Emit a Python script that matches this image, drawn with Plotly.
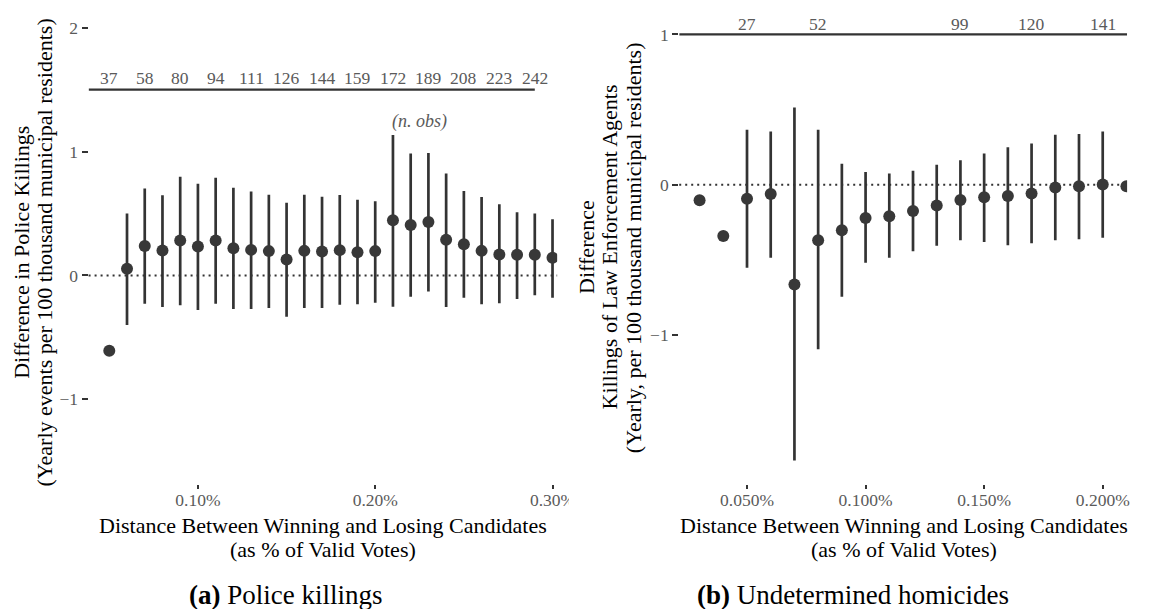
import plotly.graph_objects as go

W, H = 1151, 609
FONT = "Liberation Serif"
INK = "#333333"
GREY = "#5a5a5a"

# ---- Panel (a): police killings -------------------------------------------
margin_a = [0.05, 0.06, 0.07, 0.08, 0.09, 0.10, 0.11, 0.12, 0.13, 0.14, 0.15, 0.16, 0.17,
            0.18, 0.19, 0.20, 0.21, 0.22, 0.23, 0.24, 0.25, 0.26, 0.27, 0.28, 0.29, 0.30]
est_a = [-0.609, 0.053, 0.238, 0.201, 0.281, 0.233, 0.281, 0.220, 0.206, 0.196, 0.128, 0.198,
         0.193, 0.204, 0.187, 0.196, 0.445, 0.407, 0.431, 0.287, 0.252, 0.198, 0.169, 0.166,
         0.166, 0.142]
lo_a = [None, -0.400, -0.228, -0.255, -0.241, -0.279, -0.228, -0.271, -0.271, -0.263, -0.333,
        -0.263, -0.263, -0.236, -0.233, -0.220, -0.252, -0.172, -0.129, -0.255, -0.180, -0.233,
        -0.225, -0.191, -0.161, -0.180]
hi_a = [None, 0.499, 0.702, 0.646, 0.796, 0.740, 0.788, 0.708, 0.678, 0.651, 0.587, 0.651,
        0.635, 0.649, 0.611, 0.598, 1.134, 0.984, 0.989, 0.823, 0.681, 0.632, 0.574, 0.509,
        0.499, 0.453]
nobs_x_a = [0.05, 0.07, 0.09, 0.11, 0.13, 0.15, 0.17, 0.19, 0.21, 0.23, 0.25, 0.27, 0.29]
nobs_a = [37, 58, 80, 94, 111, 126, 144, 159, 172, 189, 208, 223, 242]
xticks_a = [0.10, 0.20, 0.30]
xticklabels_a = ["0.10%", "0.20%", "0.30%"]
yticks_a = [-1, 0, 1, 2]
yticklabels_a = ["\u22121", "0", "1", "2"]

# ---- Panel (b): undetermined homicides -------------------------------------
margin_b = [0.03, 0.04, 0.05, 0.06, 0.07, 0.08, 0.09, 0.10, 0.11, 0.12, 0.13, 0.14, 0.15,
            0.16, 0.17, 0.18, 0.19, 0.20, 0.21]
est_b = [-0.104, -0.341, -0.093, -0.062, -0.664, -0.370, -0.303, -0.221, -0.210, -0.175,
         -0.139, -0.102, -0.084, -0.075, -0.058, -0.018, -0.011, 0.002, -0.011]
lo_b = [None, None, -0.553, -0.487, -1.836, -1.095, -0.746, -0.520, -0.487, -0.443, -0.407,
        -0.370, -0.381, -0.403, -0.390, -0.370, -0.363, -0.354, None]
hi_b = [None, None, 0.365, 0.354, 0.513, 0.365, 0.139, 0.084, 0.075, 0.093, 0.133, 0.163,
        0.208, 0.250, 0.274, 0.332, 0.338, 0.354, None]
nobs_x_b = [0.05, 0.08, 0.14, 0.17, 0.20]
nobs_b = [27, 52, 99, 120, 141]
xticks_b = [0.05, 0.10, 0.15, 0.20]
xticklabels_b = ["0.050%", "0.100%", "0.150%", "0.200%"]
yticks_b = [-1, 0, 1]
yticklabels_b = ["\u22121", "0", "1"]

# axis ranges (in % of valid votes / effect units)
xrange_a = [0.03833, 0.30261]
yrange_a = [-1.687, 2.062]
xrange_b = [0.02141, 0.21028]
yrange_b = [-1.995, 1.163]
nobs_line_a = 1.5
nobs_line_b = 1.0
nobs_text_y_a = 1.59
nobs_text_y_b = 1.072


def px(x):
    return x / W


def py(y):
    return 1 - y / H


def segments(xs, lo, hi):
    sx, sy = [], []
    for x, a, b in zip(xs, lo, hi):
        if a is None or b is None:
            continue
        sx += [x, x, None]
        sy += [a, b, None]
    return sx, sy


fig = go.Figure()

for xs, est, lo, hi, xa, ya in [
    (margin_a, est_a, lo_a, hi_a, "x", "y"),
    (margin_b, est_b, lo_b, hi_b, "x2", "y2"),
]:
    sx, sy = segments(xs, lo, hi)
    fig.add_trace(go.Scatter(x=sx, y=sy, mode="lines", xaxis=xa, yaxis=ya,
                             line=dict(color=INK, width=2.7), hoverinfo="skip",
                             showlegend=False))
    fig.add_trace(go.Scatter(x=xs, y=est, mode="markers", xaxis=xa, yaxis=ya,
                             marker=dict(color="#383838", size=12, line=dict(width=0)),
                             showlegend=False))

tickfont = dict(family=FONT, size=17.5, color=GREY)
common_x = dict(showgrid=False, zeroline=False, showline=False, ticks="outside",
                ticklen=4, tickwidth=1.5, tickcolor=INK, tickfont=tickfont, fixedrange=True,
                ticklabelstandoff=-4)
common_y = dict(showgrid=False, zeroline=False, showline=False, ticks="outside",
                ticklen=6, tickwidth=2, tickcolor=INK, tickfont=tickfont, fixedrange=True)

fig.update_layout(
    width=W, height=H,
    margin=dict(l=0, r=0, t=0, b=0),
    paper_bgcolor="white", plot_bgcolor="rgba(0,0,0,0)",
    showlegend=False,
    font=dict(family=FONT),
    xaxis=dict(domain=[px(90), px(566)], range=xrange_a, tickvals=xticks_a,
               ticktext=xticklabels_a, anchor="y", **common_x),
    yaxis=dict(domain=[py(484), py(18)], range=yrange_a, tickvals=yticks_a,
               ticktext=yticklabels_a, anchor="x", **common_y),
    xaxis2=dict(domain=[px(690), px(1145)], range=xrange_b, tickvals=xticks_b,
                ticktext=xticklabels_b, anchor="y2", **common_x),
    yaxis2=dict(domain=[py(484), py(8)], range=yrange_b, tickvals=yticks_b,
                ticktext=yticklabels_b, anchor="x2", **common_y),
)

# dotted reference line at zero
for xr, yr in [("x", "y"), ("x2", "y2")]:
    fig.add_shape(type="line", xref=f"{xr} domain", yref=yr, x0=0, x1=1, y0=0, y1=0,
                  line=dict(color=INK, width=2, dash="2px,4px"), layer="below")

# sample-size rule with counts
fig.add_shape(type="line", xref="x", yref="y", x0=xrange_a[0], x1=nobs_x_a[-1],
              y0=nobs_line_a, y1=nobs_line_a, line=dict(color=INK, width=2.3), layer="below")
fig.add_shape(type="line", xref="x2", yref="y2", x0=xrange_b[0], x1=xrange_b[1],
              y0=nobs_line_b, y1=nobs_line_b, line=dict(color=INK, width=2.3), layer="below")

for xv, n in zip(nobs_x_a, nobs_a):
    fig.add_annotation(x=xv, y=nobs_text_y_a, xref="x", yref="y", text=str(n),
                       showarrow=False, font=dict(family=FONT, size=17.5, color=GREY),
                       xanchor="center", yanchor="middle")
for xv, n in zip(nobs_x_b, nobs_b):
    fig.add_annotation(x=xv, y=nobs_text_y_b, xref="x2", yref="y2", text=str(n),
                       showarrow=False, font=dict(family=FONT, size=17.5, color=GREY),
                       xanchor="center", yanchor="middle")
fig.add_annotation(x=0.225, y=1.241, xref="x", yref="y", text="<i>(n. obs)</i>",
                   showarrow=False, font=dict(family=FONT, size=18, color=GREY),
                   xanchor="center", yanchor="middle")

# the left subfigure is cropped at its right border
fig.add_shape(type="rect", xref="paper", yref="paper", x0=px(578), x1=px(586),
              y0=py(514), y1=py(486), fillcolor="white", line=dict(width=0), layer="above")

title_font = dict(family=FONT, size=22, color="black")


def note(x, y, text, font, angle=0):
    fig.add_annotation(x=px(x), y=py(y), xref="paper", yref="paper", text=text,
                       showarrow=False, font=font, textangle=angle,
                       xanchor="center", yanchor="middle")


# y-axis titles
note(22, 251, "Difference in Police Killings", title_font, -90)
note(45, 251, "(Yearly events per 100 thousand municipal residents)", title_font, -90)
note(595, 246, "Difference", title_font, -90)
note(619, 246, "Killings of Law Enforcement Agents", title_font, -90)
note(643, 246, "(Yearly, per 100 thousand municipal residents)", title_font, -90)

# x-axis titles
note(328, 525, "Distance Between Winning and Losing Candidates", title_font)
note(328, 549, "(as % of Valid Votes)", title_font)
note(918, 525, "Distance Between Winning and Losing Candidates", title_font)
note(918, 549, "(as % of Valid Votes)", title_font)

# subfigure captions
cap_font = dict(family=FONT, size=27, color="black")
note(290, 595, "<b>(a)</b> Police killings", cap_font)
note(867, 595, "<b>(b)</b> Undetermined homicides", cap_font)

fig.write_html("out.html")
